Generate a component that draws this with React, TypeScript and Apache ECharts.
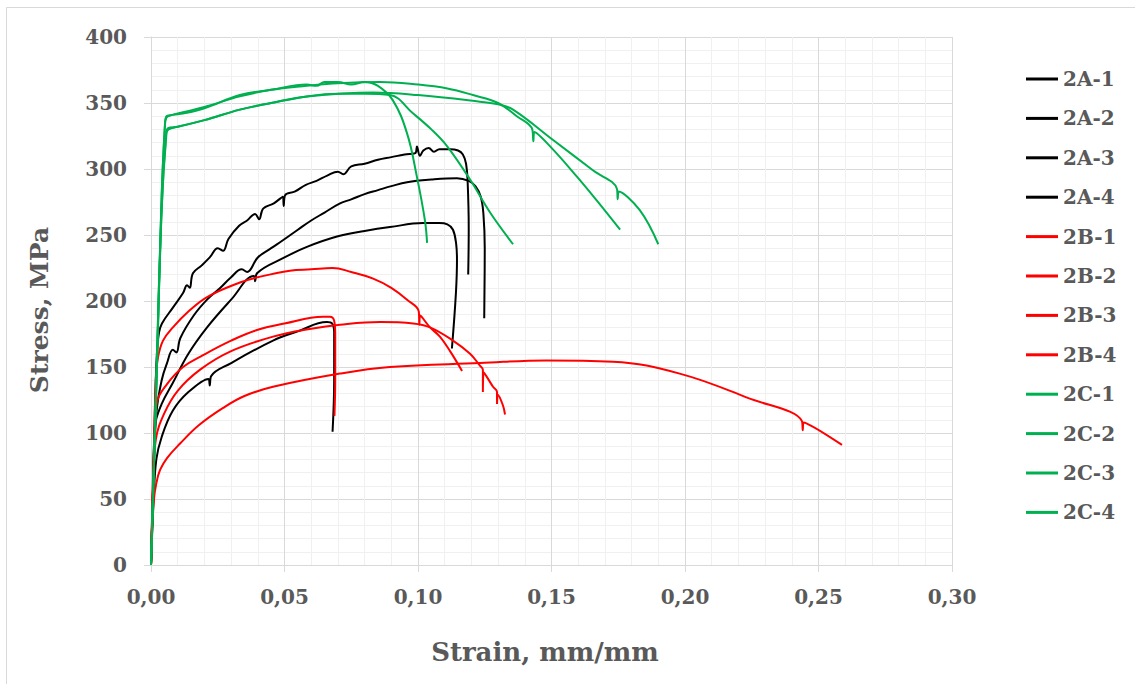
import React, { useEffect, useRef } from "react";
import * as echarts from "echarts";

// Stress-strain curves, [strain (mm/mm), stress (MPa)]
const s2A1: number[][] = [
  [0, 0], [0.0008, 60], [0.0015, 120], [0.0022, 160], [0.003, 176], [0.0041, 183], [0.0082, 195],
  [0.012, 206], [0.0135, 212], [0.0145, 210], [0.0157, 221], [0.019, 227], [0.022, 233], [0.025, 240],
  [0.027, 238], [0.029, 247], [0.033, 257], [0.036, 261], [0.039, 266], [0.0405, 262], [0.042, 270],
  [0.046, 274], [0.0494, 279], [0.0497, 272], [0.0502, 280], [0.054, 283], [0.058, 288], [0.062, 291],
  [0.066, 295], [0.07, 298], [0.072, 296], [0.075, 302], [0.08, 304], [0.085, 307], [0.09, 309],
  [0.095, 311], [0.099, 312], [0.0996, 317], [0.1007, 310], [0.102, 314], [0.104, 316], [0.106, 313],
  [0.108, 315], [0.112, 315], [0.115, 314], [0.1168, 311], [0.118, 304], [0.1186, 290], [0.119, 255],
  [0.1188, 220],
];
const s2A2: number[][] = [
  [0, 0], [0.001, 70], [0.002, 115], [0.004, 140], [0.006, 153], [0.0082, 163], [0.0095, 161],
  [0.011, 172], [0.016, 189], [0.021, 201], [0.026, 210], [0.03, 218], [0.034, 224], [0.036, 222],
  [0.04, 233], [0.045, 240], [0.0494, 246], [0.055, 254], [0.06, 261], [0.065, 267], [0.0708, 274],
  [0.075, 277], [0.08, 281], [0.085, 284], [0.09, 287], [0.0959, 290], [0.105, 292], [0.1146, 293],
  [0.119, 291], [0.1215, 287], [0.1235, 279], [0.1245, 266], [0.125, 240], [0.1248, 187],
];
const s2A3: number[][] = [
  [0, 0], [0.0008, 60], [0.0015, 105], [0.004, 122], [0.0082, 138], [0.014, 160], [0.021, 180],
  [0.03, 201], [0.0385, 219], [0.039, 215], [0.0397, 221], [0.05, 233], [0.0584, 241], [0.07, 249],
  [0.08, 253], [0.0895, 256], [0.1019, 259], [0.108, 259], [0.111, 258], [0.1131, 254], [0.1143, 243],
  [0.1146, 231], [0.1142, 206], [0.1127, 164],
];
const s2A4: number[][] = [
  [0, 0], [0.001, 50], [0.002, 80], [0.004, 97], [0.0082, 117], [0.014, 131], [0.0215, 141],
  [0.022, 136], [0.0225, 143], [0.03, 153], [0.0457, 170], [0.055, 177], [0.0659, 184], [0.0678, 183],
  [0.0686, 176], [0.0686, 140], [0.068, 101],
];
const s2B1: number[][] = [
  [0, 0], [0.001, 80], [0.0018, 140], [0.0026, 157], [0.0045, 170], [0.0082, 180], [0.014, 192],
  [0.021, 203], [0.0333, 214], [0.04, 218], [0.052, 223], [0.06, 224], [0.068, 225], [0.075, 222],
  [0.0832, 217], [0.09, 210], [0.0959, 201], [0.1003, 192], [0.1005, 182], [0.1008, 189],
  [0.1045, 180], [0.1082, 173], [0.112, 162], [0.1165, 147],
];
const s2B2: number[][] = [
  [0, 0], [0.0008, 70], [0.0015, 100], [0.0022, 123], [0.006, 137], [0.012, 150], [0.0195, 159],
  [0.03, 170], [0.0397, 178], [0.05, 183], [0.0644, 188], [0.067, 188], [0.0686, 185], [0.069, 175],
  [0.069, 140], [0.0687, 113],
];
const s2B3: number[][] = [
  [0, 0], [0.0008, 60], [0.0018, 95], [0.005, 115], [0.01, 132], [0.0184, 148], [0.03, 162],
  [0.0457, 173], [0.06, 179], [0.0708, 182], [0.0858, 184], [0.0982, 183], [0.1045, 180],
  [0.1131, 170], [0.1195, 160], [0.1232, 151], [0.1243, 148], [0.1243, 131], [0.1246, 146],
  [0.1281, 135], [0.1296, 131], [0.1296, 122], [0.1299, 129], [0.1318, 121], [0.1326, 114],
];
const s2B4: number[][] = [
  [0, 0], [0.0005, 30], [0.001, 48], [0.002, 62], [0.0034, 72], [0.006, 81], [0.0109, 92],
  [0.018, 106], [0.027, 119], [0.035, 128], [0.0457, 135], [0.0708, 145], [0.0895, 150],
  [0.1232, 153], [0.148, 155], [0.173, 154], [0.198, 145], [0.223, 127], [0.2438, 109],
  [0.2441, 102], [0.2444, 108], [0.2588, 91],
];
const s2C1: number[][] = [
  [0, 0], [0.002, 140], [0.004, 280], [0.0052, 332], [0.0058, 339], [0.008, 341], [0.012, 342],
  [0.02, 346], [0.0333, 356], [0.045, 360], [0.0584, 364], [0.062, 363], [0.065, 366], [0.07, 366],
  [0.075, 364], [0.08, 366], [0.085, 363], [0.0906, 352], [0.0959, 327], [0.0996, 294],
  [0.1026, 261], [0.1034, 244],
];
const s2C2: number[][] = [
  [0, 0], [0.002, 140], [0.004, 280], [0.0052, 333], [0.0058, 340], [0.008, 341], [0.012, 343],
  [0.02, 347], [0.0333, 355], [0.045, 360], [0.0584, 363], [0.07, 365], [0.0858, 366], [0.1, 364],
  [0.111, 361], [0.1206, 356], [0.13, 350], [0.137, 340], [0.1428, 330], [0.1432, 321],
  [0.1436, 328], [0.15, 316], [0.1596, 294], [0.167, 276], [0.1757, 254],
];
const s2C3: number[][] = [
  [0, 0], [0.002, 135], [0.004, 270], [0.0056, 325], [0.0064, 331], [0.01, 332], [0.02, 337],
  [0.0333, 345], [0.045, 350], [0.0584, 355], [0.07, 357], [0.08, 357], [0.0895, 356],
  [0.0982, 342], [0.105, 330], [0.111, 317], [0.1195, 292], [0.127, 267], [0.1356, 243],
];
const s2C4: number[][] = [
  [0, 0], [0.002, 135], [0.004, 270], [0.0058, 327], [0.0066, 330], [0.01, 332], [0.02, 337],
  [0.0333, 345], [0.045, 350], [0.0584, 355], [0.0832, 358], [0.1, 356], [0.1232, 351],
  [0.13, 349], [0.1356, 345], [0.1506, 322], [0.1655, 299], [0.1745, 285], [0.1748, 277],
  [0.1752, 283], [0.183, 269], [0.19, 243],
];

const seriesNames = ["2A-1", "2A-2", "2A-3", "2A-4", "2B-1", "2B-2", "2B-3", "2B-4", "2C-1", "2C-2", "2C-3", "2C-4"];
const seriesData = [s2A1, s2A2, s2A3, s2A4, s2B1, s2B2, s2B3, s2B4, s2C1, s2C2, s2C3, s2C4];
const groupColors: Record<string, string> = { A: "#000000", B: "#ff0000", C: "#00b050" };

const FONT = "'DejaVu Serif', serif";
const TEXT = "#595959";

export default function App() {
  const ref = useRef<HTMLDivElement>(null);

  useEffect(() => {
    if (!ref.current) return;
    const chart = echarts.init(ref.current, null, { renderer: "svg" });

    const series = seriesNames.map((name, i) => {
      const color = groupColors[name.charAt(1)];
      return {
        name,
        type: "line",
        data: seriesData[i],
        color,
        showSymbol: false,
        symbol: "none",
        smooth: 0.4,
        lineStyle: { color, width: 2 },
        emphasis: { disabled: true },
      };
    });

    chart.setOption({
      animation: false,
      backgroundColor: "#ffffff",
      grid: { left: 151, top: 37, width: 801, height: 528, outerBoundsMode: "none" },
      xAxis: {
        type: "value",
        min: 0,
        max: 0.3,
        interval: 0.05,
        axisLine: { show: true, onZero: false, lineStyle: { color: "#d9d9d9", width: 1 } },
        axisTick: { show: true, length: 7, lineStyle: { color: "#d9d9d9" } },
        axisLabel: {
          margin: 22,
          color: TEXT,
          fontFamily: FONT,
          fontWeight: "bold",
          fontSize: 20,
          formatter: (v: number) => v.toFixed(2).replace(".", ","),
        },
        splitLine: { show: true, lineStyle: { color: "#d9d9d9", width: 1 } },
        minorTick: { show: false, splitNumber: 5 },
        minorSplitLine: { show: true, lineStyle: { color: "#f0f0f0", width: 1 } },
      },
      yAxis: {
        type: "value",
        min: 0,
        max: 400,
        interval: 50,
        axisLine: { show: true, onZero: false, lineStyle: { color: "#d9d9d9", width: 1 } },
        axisTick: { show: true, length: 7, lineStyle: { color: "#d9d9d9" } },
        axisLabel: {
          margin: 24,
          color: TEXT,
          fontFamily: FONT,
          fontWeight: "bold",
          fontSize: 20,
        },
        splitLine: { show: true, lineStyle: { color: "#d9d9d9", width: 1 } },
        minorTick: { show: false, splitNumber: 5 },
        minorSplitLine: { show: true, lineStyle: { color: "#f0f0f0", width: 1 } },
      },
      legend: {
        orient: "vertical",
        left: 1026,
        top: 68,
        padding: 0,
        itemWidth: 32,
        itemHeight: 3,
        itemGap: 17.4,
        icon: "rect",
        selectedMode: false,
        data: seriesNames,
        textStyle: {
          color: TEXT,
          fontFamily: FONT,
          fontWeight: "bold",
          fontSize: 20,
          lineHeight: 22,
        },
      },
      graphic: [
        {
          type: "rect",
          silent: true,
          z: -10,
          shape: { x: 6.5, y: 7.5, width: 1150, height: 700 },
          style: { fill: "none", stroke: "#d9d9d9", lineWidth: 1 },
        },
        {
          type: "text",
          silent: true,
          x: 545,
          y: 652,
          style: {
            text: "Strain, mm/mm",
            fill: TEXT,
            font: `bold 26px ${FONT}`,
            textAlign: "center",
            textVerticalAlign: "middle",
          },
        },
        {
          type: "text",
          silent: true,
          x: 39,
          y: 310,
          rotation: Math.PI / 2,
          style: {
            text: "Stress, MPa",
            fill: TEXT,
            font: `bold 25px ${FONT}`,
            textAlign: "center",
            textVerticalAlign: "middle",
          },
        },
      ],
      series,
    });

    return () => chart.dispose();
  }, []);

  return (
    <div
      ref={ref}
      style={{ position: "fixed", left: 0, top: 0, width: 1135, height: 684, background: "#fff" }}
    />
  );
}
